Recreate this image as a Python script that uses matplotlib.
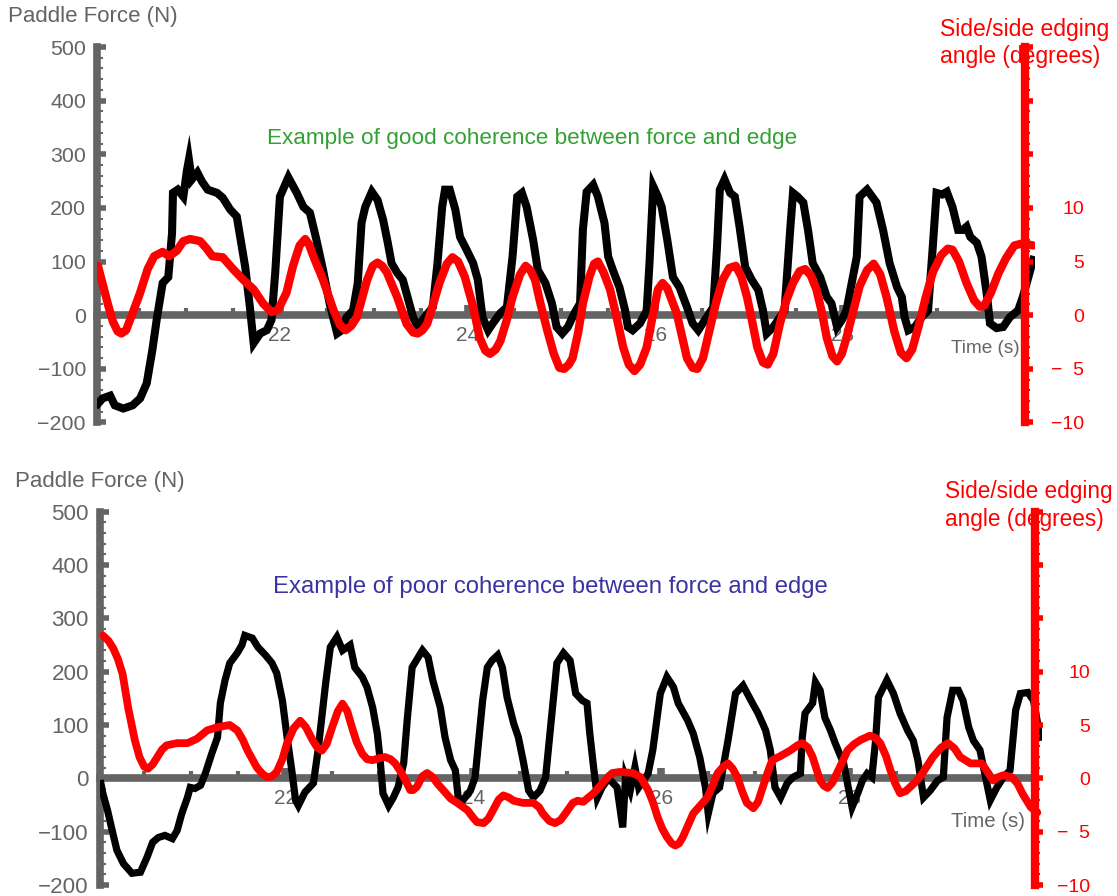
import matplotlib
matplotlib.use("Agg")
import matplotlib.pyplot as plt
from matplotlib.ticker import FixedLocator, MultipleLocator

plt.rcParams['font.family'] = ['Liberation Sans', 'DejaVu Sans']

# ---------------- data: good coherence (upper panel) ----------------
good_force_time = [
    20.06, 20.11, 20.19, 20.24, 20.33, 20.43, 20.51, 20.58, 20.64, 20.69, 20.75, 20.81,
    20.85, 20.86, 20.91, 20.97, 21.01, 21.03, 21.06, 21.12, 21.17, 21.23, 21.33, 21.39,
    21.47, 21.54, 21.57, 21.63, 21.68, 21.72, 21.79, 21.86, 21.91, 21.95, 22.00, 22.09,
    22.18, 22.25, 22.32, 22.39, 22.46, 22.53, 22.61, 22.66, 22.71, 22.78, 22.83, 22.87,
    22.91, 22.98, 23.04, 23.10, 23.15, 23.19, 23.25, 23.31, 23.36, 23.42, 23.47, 23.52,
    23.58, 23.63, 23.68, 23.73, 23.76, 23.81, 23.87, 23.92, 23.99, 24.06, 24.11, 24.16,
    24.22, 24.27, 24.35, 24.42, 24.48, 24.53, 24.58, 24.63, 24.70, 24.75, 24.83, 24.90,
    24.95, 25.01, 25.07, 25.14, 25.20, 25.23, 25.27, 25.34, 25.39, 25.46, 25.50, 25.55,
    25.62, 25.68, 25.71, 25.76, 25.84, 25.91, 25.94, 25.98, 26.03, 26.07, 26.13, 26.19,
    26.26, 26.34, 26.40, 26.46, 26.55, 26.62, 26.66, 26.69, 26.74, 26.80, 26.85, 26.90,
    26.96, 27.03, 27.10, 27.15, 27.19, 27.26, 27.33, 27.38, 27.44, 27.47, 27.52, 27.58,
    27.63, 27.68, 27.76, 27.83, 27.88, 27.94, 27.99, 28.04, 28.15, 28.18, 28.26, 28.36,
    28.43, 28.50, 28.58, 28.63, 28.66, 28.70, 28.77, 28.84, 28.91, 28.96, 29.00, 29.06,
    29.11, 29.17, 29.23, 29.28, 29.32, 29.36, 29.43, 29.48, 29.54, 29.57, 29.64, 29.71,
    29.78, 29.87, 29.92, 30.00, 30.03]
good_force = [
    -165, -155, -150, -168, -174, -168, -155, -127, -65, -4, 60, 71,
    153, 228, 234, 221, 271, 290, 253, 266, 249, 234, 228, 219,
    197, 184, 153, 90, 15, -52, -34, -28, -9, 79, 221, 257,
    228, 202, 191, 140, 84, 22, -34, -28, -4, 9, 60, 172,
    202, 230, 215, 178, 135, 97, 79, 66, 34, -4, -22, -9,
    4, 15, 97, 202, 234, 234, 197, 146, 122, 97, 66, -4,
    -28, -15, 4, 15, 109, 221, 228, 202, 140, 84, 60, 22,
    -22, -34, -22, 4, 22, 159, 230, 243, 221, 172, 109, 84,
    52, 9, -22, -28, -15, 9, 97, 240, 221, 202, 140, 71,
    52, 15, -15, -28, -4, 15, 127, 234, 253, 228, 221, 165,
    90, 66, 47, 9, -34, -22, -4, 9, 159, 228, 221, 210,
    159, 97, 71, 34, 22, -22, -9, 9, 109, 221, 234, 210,
    159, 97, 52, 34, -4, -28, -22, -4, 9, 127, 228, 225,
    230, 202, 159, 159, 165, 146, 135, 109, 34, -15, -24, -22,
    -4, 9, 34, 84, 103]

good_edge_time = [
    20.06, 20.12, 20.17, 20.22, 20.27, 20.31, 20.36, 20.43, 20.51, 20.59, 20.66, 20.75,
    20.82, 20.90, 20.97, 21.04, 21.10, 21.15, 21.22, 21.28, 21.39, 21.50, 21.61, 21.72,
    21.82, 21.91, 21.98, 22.07, 22.14, 22.21, 22.27, 22.31, 22.37, 22.46, 22.57, 22.64,
    22.70, 22.76, 22.82, 22.93, 22.99, 23.04, 23.09, 23.14, 23.25, 23.35, 23.42, 23.47,
    23.52, 23.57, 23.64, 23.70, 23.78, 23.84, 23.90, 23.97, 24.06, 24.13, 24.19, 24.24,
    24.30, 24.35, 24.42, 24.48, 24.56, 24.62, 24.67, 24.72, 24.78, 24.85, 24.92, 24.98,
    25.03, 25.08, 25.12, 25.18, 25.23, 25.30, 25.35, 25.39, 25.45, 25.52, 25.59, 25.66,
    25.72, 25.78, 25.84, 25.91, 25.98, 26.03, 26.08, 26.13, 26.23, 26.34, 26.40, 26.45,
    26.51, 26.58, 26.65, 26.72, 26.79, 26.86, 26.92, 26.98, 27.04, 27.09, 27.15, 27.20,
    27.26, 27.33, 27.40, 27.47, 27.54, 27.60, 27.66, 27.72, 27.78, 27.83, 27.89, 27.94,
    27.99, 28.04, 28.11, 28.18, 28.26, 28.33, 28.40, 28.47, 28.55, 28.62, 28.68, 28.74,
    28.81, 28.88, 28.96, 29.05, 29.12, 29.17, 29.24, 29.32, 29.40, 29.46, 29.51, 29.58,
    29.66, 29.74, 29.83, 29.92, 30.03]
good_edge = [
    4.6, 2.6, 0.9, -0.6, -1.5, -1.7, -1.4, 0.2, 2.1, 4.3, 5.5, 5.9,
    5.5, 6.0, 6.9, 7.1, 7.0, 6.9, 6.2, 5.5, 5.4, 4.3, 3.3, 2.4,
    1.1, 0.3, 0.5, 2.1, 4.6, 6.5, 7.1, 6.6, 5.2, 3.3, 0.5, -0.9,
    -1.4, -1.0, -0.2, 3.3, 4.6, 4.9, 4.6, 4.0, 1.7, -0.8, -1.6, -1.7,
    -1.4, -0.8, 1.2, 3.0, 4.8, 5.4, 5.0, 3.6, 0.8, -2.1, -3.3, -3.6,
    -3.2, -2.4, -0.4, 1.7, 3.8, 4.6, 4.2, 3.3, 1.0, -1.4, -3.6, -4.9,
    -5.0, -4.6, -4.0, -1.6, 1.1, 3.6, 4.8, 5.0, 4.0, 2.4, -0.2, -3.0,
    -4.6, -5.2, -4.6, -3.0, 0.2, 2.4, 3.0, 2.5, 0.2, -4.0, -4.9, -5.0,
    -4.0, -1.4, 1.2, 3.3, 4.4, 4.6, 3.6, 1.7, -0.8, -3.0, -4.4, -4.6,
    -3.6, -0.8, 1.4, 3.0, 4.1, 4.3, 3.7, 2.4, 0.2, -2.1, -3.8, -4.3,
    -3.6, -2.1, 0.3, 2.7, 4.2, 4.8, 3.8, 1.6, -1.5, -3.5, -4.0, -3.2,
    -1.0, 1.5, 4.0, 5.6, 6.2, 6.1, 5.0, 3.0, 1.4, 0.8, 0.9, 2.1,
    3.9, 5.3, 6.5, 6.7, 6.5]

# ---------------- data: poor coherence (lower panel) ----------------
poor_force_time = [
    20.04, 20.06, 20.11, 20.16, 20.21, 20.28, 20.37, 20.46, 20.53, 20.59, 20.65, 20.72,
    20.80, 20.85, 20.90, 20.96, 20.99, 21.04, 21.10, 21.15, 21.22, 21.28, 21.31, 21.36,
    21.41, 21.49, 21.54, 21.57, 21.65, 21.71, 21.79, 21.86, 21.91, 21.97, 22.02, 22.07,
    22.11, 22.14, 22.21, 22.30, 22.35, 22.43, 22.48, 22.55, 22.61, 22.69, 22.74, 22.82,
    22.87, 22.93, 22.98, 23.01, 23.04, 23.10, 23.15, 23.20, 23.26, 23.30, 23.35, 23.46,
    23.52, 23.57, 23.65, 23.70, 23.76, 23.81, 23.84, 23.89, 23.97, 24.02, 24.10, 24.15,
    24.20, 24.26, 24.31, 24.36, 24.43, 24.48, 24.53, 24.59, 24.64, 24.71, 24.77, 24.84,
    24.89, 24.96, 25.03, 25.09, 25.16, 25.21, 25.24, 25.28, 25.32, 25.37, 25.44, 25.53,
    25.59, 25.62, 25.67, 25.72, 25.76, 25.81, 25.86, 25.91, 25.99, 26.06, 26.13, 26.18,
    26.28, 26.34, 26.41, 26.47, 26.50, 26.55, 26.62, 26.71, 26.79, 26.87, 26.97, 27.03,
    27.11, 27.16, 27.21, 27.27, 27.34, 27.40, 27.48, 27.50, 27.53, 27.61, 27.64, 27.69,
    27.74, 27.80, 27.85, 27.94, 28.03, 28.09, 28.14, 28.19, 28.24, 28.28, 28.31, 28.40,
    28.47, 28.54, 28.62, 28.68, 28.73, 28.79, 28.86, 28.94, 29.00, 29.04, 29.10, 29.16,
    29.21, 29.27, 29.32, 29.39, 29.45, 29.50, 29.57, 29.64, 29.71, 29.77, 29.82, 29.90,
    29.96, 30.03]
poor_force = [
    -10, -28, -60, -98, -135, -160, -178, -176, -148, -120, -111, -107,
    -113, -98, -66, -36, -17, -19, -13, 9, 47, 77, 141, 184,
    216, 235, 250, 268, 263, 246, 231, 216, 197, 146, 77, 15,
    -41, -51, -26, -9, 53, 178, 246, 265, 240, 250, 208, 190,
    171, 133, 84, 34, -28, -51, -36, -17, 28, 114, 208, 240,
    227, 184, 133, 77, 34, 15, -36, -41, -23, 2, 146, 208,
    221, 231, 208, 152, 103, 77, 34, -23, -36, -23, 2, 128,
    216, 235, 221, 159, 146, 141, 84, 21, -36, -17, 0, -17,
    -92, 2, -23, 21, -17, -4, 9, 53, 159, 190, 171, 141,
    109, 84, 39, -17, -66, -28, -17, 71, 159, 174, 141, 122,
    90, 53, -17, -36, -9, 2, 9, 77, 122, 141, 180, 165,
    114, 90, 66, 28, -54, -28, -4, 9, 2, 71, 152, 184,
    159, 122, 90, 71, 34, -36, -23, -4, 2, 114, 165, 165,
    146, 96, 71, 53, 2, -41, -17, 2, 15, 128, 159, 161,
    146, 77]

poor_edge_time = [
    20.06, 20.12, 20.17, 20.22, 20.27, 20.33, 20.40, 20.45, 20.50, 20.54, 20.59, 20.64,
    20.69, 20.74, 20.85, 20.96, 21.06, 21.17, 21.28, 21.41, 21.49, 21.55, 21.60, 21.70,
    21.76, 21.81, 21.86, 21.91, 21.97, 22.02, 22.09, 22.16, 22.22, 22.29, 22.34, 22.39,
    22.44, 22.50, 22.56, 22.61, 22.66, 22.71, 22.76, 22.82, 22.87, 22.93, 23.00, 23.06,
    23.12, 23.17, 23.23, 23.28, 23.33, 23.36, 23.40, 23.46, 23.51, 23.57, 23.62, 23.68,
    23.76, 23.83, 23.94, 24.00, 24.04, 24.11, 24.16, 24.21, 24.27, 24.32, 24.38, 24.43,
    24.53, 24.64, 24.70, 24.74, 24.81, 24.87, 24.93, 24.98, 25.06, 25.11, 25.17, 25.28,
    25.38, 25.44, 25.48, 25.56, 25.70, 25.78, 25.86, 25.91, 25.96, 26.01, 26.06, 26.11,
    26.15, 26.19, 26.23, 26.29, 26.34, 26.42, 26.49, 26.55, 26.60, 26.66, 26.71, 26.76,
    26.81, 26.86, 26.91, 26.98, 27.03, 27.07, 27.13, 27.18, 27.27, 27.37, 27.45, 27.50,
    27.56, 27.61, 27.65, 27.69, 27.73, 27.77, 27.82, 27.87, 27.93, 27.98, 28.05, 28.12,
    28.22, 28.28, 28.33, 28.39, 28.44, 28.49, 28.54, 28.60, 28.65, 28.72, 28.78, 28.89,
    28.98, 29.05, 29.12, 29.18, 29.29, 29.41, 29.47, 29.53, 29.58, 29.64, 29.73, 29.79,
    29.84, 29.93, 30.00]
poor_edge = [
    13.4, 12.9, 12.2, 11.2, 9.8, 6.6, 3.6, 2.0, 1.1, 0.9, 1.3, 2.0,
    2.7, 3.1, 3.3, 3.3, 3.7, 4.5, 4.8, 5.0, 4.5, 3.6, 2.6, 1.0,
    0.4, 0.1, 0.2, 0.6, 1.8, 3.3, 4.7, 5.4, 4.8, 3.6, 2.9, 2.6,
    3.2, 4.8, 6.3, 7.0, 6.3, 4.8, 3.4, 2.3, 1.8, 1.7, 1.9, 2.0,
    1.8, 1.4, 0.6, -0.2, -1.1, -1.1, -0.8, 0.2, 0.5, 0.1, -0.5, -1.1,
    -1.9, -2.3, -3.0, -3.7, -4.1, -4.2, -3.8, -3.0, -2.0, -1.6, -1.8, -2.1,
    -2.3, -2.3, -2.7, -3.3, -4.0, -4.2, -3.9, -3.3, -2.3, -2.1, -2.2, -1.4,
    -0.4, 0.2, 0.5, 0.6, 0.5, 0.1, -1.1, -2.2, -3.6, -4.7, -5.5, -6.1,
    -6.3, -6.1, -5.5, -4.3, -3.3, -2.5, -1.8, -0.6, 0.5, 1.1, 1.4, 0.9,
    0.1, -1.2, -2.3, -2.8, -2.2, -1.1, 0.5, 1.7, 2.1, 2.6, 3.1, 3.3,
    2.9, 2.0, 0.9, -0.2, -0.7, -0.9, -0.4, 0.5, 1.6, 2.6, 3.2, 3.6,
    4.0, 3.8, 3.3, 2.1, 0.7, -0.5, -1.4, -1.2, -0.8, -0.2, 0.5, 2.0,
    2.9, 3.3, 2.8, 2.0, 1.4, 1.4, 0.6, -0.2, 0.1, 0.3, 0.1, -0.5,
    -1.4, -2.7, -3.2]

# ---------------- axis ticks and labels ----------------
force_ticks = [-200, -100, 0, 100, 200, 300, 400, 500]
time_ticks = [22, 24, 26, 28]
time_minor = [20.5, 21, 21.5, 22.5, 23, 23.5, 24.5, 25, 25.5, 26.5, 27, 27.5, 28.5, 29, 29.5]
edge_ticks = [-10, -5, 0, 5, 10, 15, 20, 25]
edge_labels = ['\u221210', '\u2212  5', '0', '5', '10', '', '', '']

force_label = 'Paddle Force (N)'
edge_label = 'Side/side edging\nangle (degrees)'
time_label = 'Time (s)'

GRAY = '#646464'
RED = '#ff0000'

W, H = 1117, 896
fig = plt.figure(figsize=(W / 100, H / 100), dpi=100)


def rect(x0, y_top, x1, y_bot):
    return [x0 / W, 1 - y_bot / H, (x1 - x0) / W, (y_bot - y_top) / H]


def panel(box, xlim, spine_x, t_f, f, t_e, e, note, note_color, note_xy, note_size,
          tick_size, red_pad, xlabel_xy, xlabel_size, ylabel_xy, elabel_xy, elabel_size,
          black_lw, red_lw):
    ax = fig.add_axes(box)
    ax.set_xlim(*xlim)
    ax.set_ylim(-200, 500)
    ax.patch.set_visible(False)

    ax.plot(t_f, f, color='black', lw=black_lw, zorder=3, solid_joinstyle='miter')

    for side in ('top', 'right'):
        ax.spines[side].set_visible(False)
    ax.spines['left'].set_linewidth(5.5)
    ax.spines['left'].set_color(GRAY)
    ax.spines['bottom'].set_position(('data', 0))
    ax.spines['bottom'].set_linewidth(5.5)
    ax.spines['bottom'].set_color(GRAY)
    ax.spines['bottom'].set_bounds(xlim[0], spine_x)

    ax.set_yticks(force_ticks)
    ax.yaxis.set_minor_locator(MultipleLocator(20))
    ax.tick_params(axis='y', which='major', direction='in', length=6.5, width=4,
                   color=GRAY, labelcolor=GRAY, labelsize=tick_size, pad=8)
    ax.tick_params(axis='y', which='minor', direction='in', length=4.2, width=1.5,
                   color=GRAY)
    ax.set_xticks(time_ticks)
    ax.xaxis.set_minor_locator(FixedLocator(time_minor))
    ax.tick_params(axis='x', which='major', direction='in', length=7, width=5.5,
                   color=GRAY, labelcolor=GRAY, labelsize=15, pad=8)
    ax.tick_params(axis='x', which='minor', direction='in', length=4.8, width=3,
                   color=GRAY)

    ax.set_ylabel(force_label, rotation=0, ha='left', va='center', color=GRAY,
                  fontsize=16)
    ax.yaxis.set_label_coords(*ylabel_xy)
    ax.set_xlabel(time_label, ha='right', va='center', color=GRAY, fontsize=xlabel_size)
    ax.xaxis.set_label_coords(*xlabel_xy)

    ax.text(note_xy[0], note_xy[1], note, color=note_color, fontsize=note_size,
            ha='center', va='center')

    ax2 = ax.twinx()
    ax2.set_ylim(-10, 25)
    ax2.plot(t_e, e, color=RED, lw=red_lw, solid_joinstyle='round',
             solid_capstyle='round')
    for side in ('top', 'left', 'bottom'):
        ax2.spines[side].set_visible(False)
    ax2.spines['right'].set_position(('data', spine_x))
    ax2.spines['right'].set_color(RED)
    ax2.spines['right'].set_linewidth(6)
    ax2.set_yticks(edge_ticks)
    ax2.set_yticklabels(edge_labels)
    ax2.yaxis.set_minor_locator(MultipleLocator(1))
    ax2.tick_params(axis='y', which='major', direction='out', length=5.5, width=4,
                    color=RED, labelcolor=RED, labelsize=14, pad=red_pad)
    ax2.tick_params(axis='y', which='minor', direction='out', length=3.8, width=1.5,
                    color=RED)
    for lab in ax2.get_yticklabels():
        lab.set_horizontalalignment('right')
    ax2.set_ylabel(edge_label, rotation=0, ha='left', va='center', color=RED,
                   fontsize=elabel_size, linespacing=1.25)
    ax2.yaxis.set_label_coords(*elabel_xy)
    return ax, ax2


panel(rect(97, 47, 1035, 422.5), (20.05, 30.05), 29.94,
      good_force_time, good_force, good_edge_time, good_edge,
      'Example of good coherence between force and edge', '#32a032', (24.69, 330), 16.2,
      15.4, 37.5, (0.984, 0.198), 13.7, (-0.0949, 1.080), (0.899, 1.011), 16.5, 5.8, 6.0)

panel(rect(100, 511.7, 1042, 885), (20.03, 30.05), 29.98,
      poor_force_time, poor_force, poor_edge_time, poor_edge,
      'Example of poor coherence between force and edge', '#3c32a0', (24.82, 358), 17.2,
      16.1, 34, (0.982, 0.169), 14.7, (-0.0902, 1.080), (0.897, 1.016), 16.3, 5.2, 5.6)

fig.savefig('out.png', dpi=100)
